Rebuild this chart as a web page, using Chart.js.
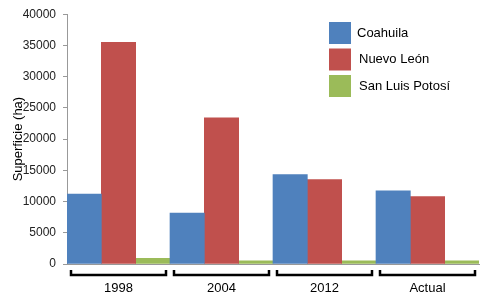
<!DOCTYPE html>
<html>
<head>
<meta charset="utf-8">
<script src="https://cdn.jsdelivr.net/npm/chart.js@4/dist/chart.umd.min.js"></script>
<style>
  html, body { margin: 0; padding: 0; background: #fff; }
  #wrap { width: 493px; height: 302px; }
</style>
</head>
<body>
<div id="wrap"><canvas id="chart"></canvas></div>
<script>
const categories = ["1998", "2004", "2012", "Actual"],
  coahuila = [11200, 8150, 14300, 11700],
  nuevoLeon = [35500, 23400, 13500, 10800],
  sanLuis = [900, 500, 500, 500],
  yTicks = [0, 5000, 10000, 15000, 20000, 25000, 30000, 35000, 40000];

const font = "'Liberation Sans', Arial, sans-serif";

// corchetes bajo cada categoría + leyenda dentro del área
const extras = {
  id: "extras",
  afterDraw(chart) {
    const ctx = chart.ctx,
      x = chart.scales.x,
      area = chart.chartArea,
      w = x.width / categories.length;
    ctx.save();
    ctx.strokeStyle = "#000";
    ctx.lineWidth = 2.5;
    categories.forEach((c, i) => {
      const l = x.left + i * w + 4,
        r = x.left + (i + 1) * w - 4,
        y = area.bottom + 11;
      ctx.beginPath();
      ctx.moveTo(l, y - 5);
      ctx.lineTo(l, y);
      ctx.lineTo(r, y);
      ctx.lineTo(r, y - 5);
      ctx.stroke();
    });
    ctx.font = "13px " + font;
    ctx.textBaseline = "middle";
    chart.data.datasets.forEach((ds, i) => {
      const bx = 329, by = 22 + i * 26.5;
      ctx.fillStyle = ds.backgroundColor;
      ctx.fillRect(bx, by, 22, 22);
      ctx.fillStyle = "#000";
      ctx.fillText(ds.label, bx + (i === 0 ? 28 : 30), by + 11);
    });
    ctx.restore();
  },
};

new Chart(document.getElementById("chart"), {
  type: "bar",
  data: {
    labels: categories,
    datasets: [
      { label: "Coahuila", data: coahuila, backgroundColor: "#4F81BD" },
      { label: "Nuevo León", data: nuevoLeon, backgroundColor: "#C0504D" },
      { label: "San Luis Potosí", data: sanLuis, backgroundColor: "#9BBB59" },
    ],
  },
  options: {
    responsive: true,
    maintainAspectRatio: false,
    animation: false,
    layout: { padding: { top: 13, right: 14, left: 9, bottom: 0 } },
    datasets: { bar: { categoryPercentage: 1, barPercentage: 1 } },
    plugins: { legend: { display: false }, tooltip: { enabled: false } },
    scales: {
      x: {
        afterFit(axis) { axis.height = 38; },
        grid: { display: false, drawTicks: false },
        border: { display: true, color: "#999", width: 1 },
        ticks: { color: "#000", font: { size: 13, family: font }, padding: 17 },
      },
      y: {
        min: 0,
        max: 40000,
        afterFit(axis) { axis.width = 58; },
        afterBuildTicks(axis) {
          axis.ticks = yTicks.map((v) => ({ value: v }));
        },
        grid: { drawOnChartArea: false, drawTicks: true, tickLength: 4, color: "#999" },
        border: { display: true, color: "#999", width: 1 },
        ticks: {
          color: "#222",
          font: { size: 12, family: font },
          padding: 7,
          callback: (v) => String(v),
        },
        title: {
          display: true,
          text: "Superficie (ha)",
          color: "#000",
          font: { size: 13, family: font },
          padding: { top: 2, bottom: 2 },
        },
      },
    },
  },
  plugins: [extras],
});
</script>
</body>
</html>
